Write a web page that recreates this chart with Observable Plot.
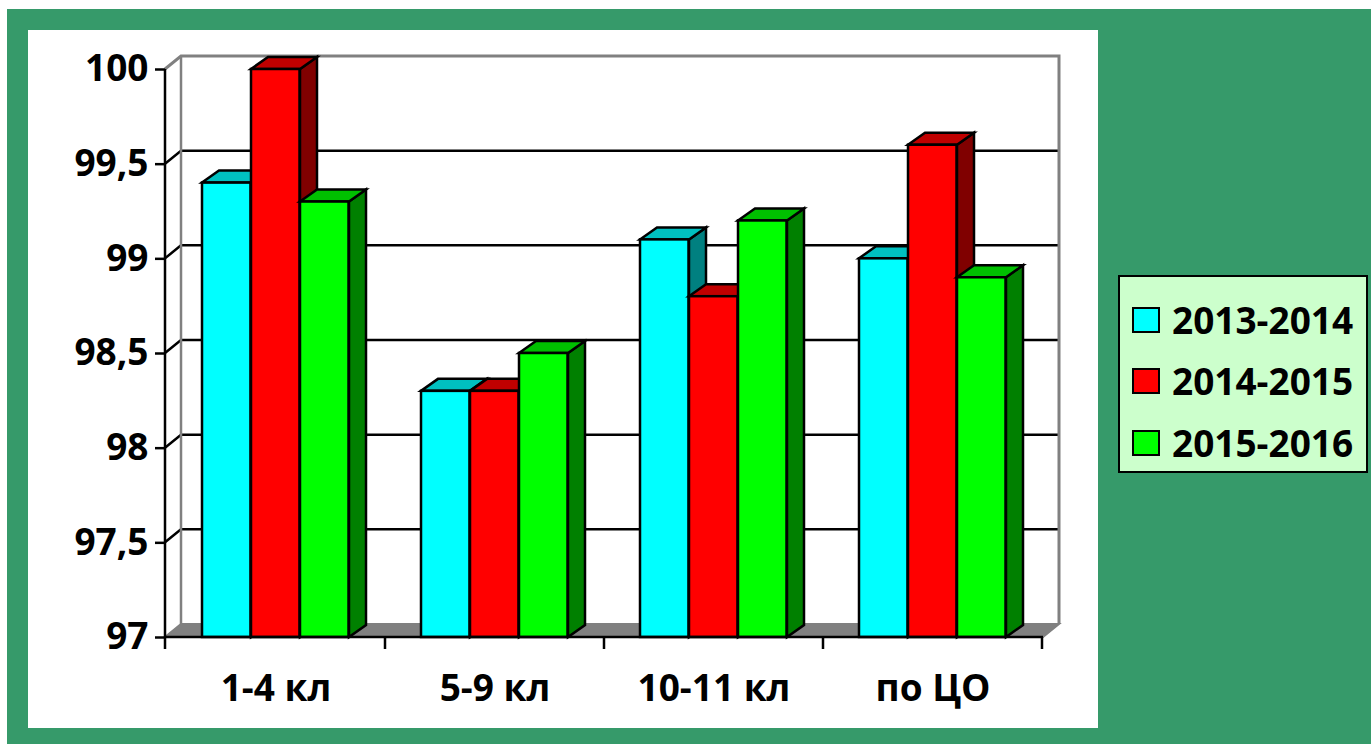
<!DOCTYPE html>
<html><head><meta charset="utf-8">
<script src="https://cdn.jsdelivr.net/npm/d3@7"></script>
<script src="https://cdn.jsdelivr.net/npm/@observablehq/plot@0.6"></script>
<style>
body{margin:0;background:#fff;}
#wrap{position:relative;width:1371px;height:744px;overflow:hidden;font-family:"Open Sans",sans-serif;}
#bg{position:absolute;left:7px;top:9px;right:0;bottom:0;background:#369A6A;}
#panel{position:absolute;left:28px;top:30px;width:1070px;height:698px;background:#fff;}
#panel svg{display:block;}
#legend{position:absolute;left:1118px;top:275px;width:246px;height:194px;background:#CCFFCC;border:2px solid #000;}
.item{position:absolute;left:12px;height:40px;display:flex;align-items:center;font-weight:700;font-size:37px;line-height:40px;color:#000;white-space:nowrap;}
.sw{width:24px;height:22px;border:2px solid #000;margin-right:12px;}
</style>
</head><body>
<div id="wrap"><div id="bg"></div><div id="panel"></div><div id="legend"></div></div>
<script>
const categories = ["1-4 кл", "5-9 кл", "10-11 кл", "по ЦО"];
const series = ["2013-2014", "2014-2015", "2015-2016"];
const values2013 = [99.4, 98.3, 99.1, 99.0];
const values2014 = [100, 98.3, 98.8, 99.6];
const values2015 = [99.3, 98.5, 99.2, 98.9];
const yTicks = [97, 97.5, 98, 98.5, 99, 99.5, 100];
const yGrid = [97.5, 98, 98.5, 99, 99.5];
const frontColors = ["#00FFFF", "#FF0000", "#00FF00"];
const topColors = ["#00C0C0", "#C00000", "#00C000"];
const sideColors = ["#008080", "#800000", "#008000"];

const seriesValues = [values2013, values2014, values2015];
const rows = categories.flatMap((c, j) => series.map((s, i) => ({category: c, series: s, value: seriesValues[i][j]})));

const W = 1070, H = 698, mL = 137, mR = 55, mT = 39, mB = 91;
const wallDX = 16, wallDY = 13, barDX = 17, barDY = 12;
const bw = (W - mL - mR) / categories.length;
const groupOffset = 36, barW = 49;

function walls(index, scales, values, dims) {
  const x0 = dims.marginLeft, x1 = dims.width - dims.marginRight;
  const y = scales.y, yb = y(97), yt = y(100);
  const g = d3.create("svg:g").attr("fill", "none");
  g.append("path").attr("d", `M${x0},${yb}L${x1},${yb}L${x1+wallDX},${yb-wallDY}L${x0+wallDX},${yb-wallDY}Z`)
    .attr("fill", "#808080").attr("stroke", "#808080").attr("stroke-width", 2);
  for (const v of yGrid) {
    const yy = y(v);
    g.append("path").attr("d", `M${x0},${yy}L${x0+wallDX},${yy-wallDY}L${x1+wallDX},${yy-wallDY}`)
      .attr("stroke", "#000").attr("stroke-width", 2.5);
  }
  g.append("path").attr("d", `M${x0},${yt}L${x0+wallDX},${yt-wallDY}L${x1+wallDX},${yt-wallDY}L${x1+wallDX},${yb-wallDY}`)
    .attr("stroke", "#808080").attr("stroke-width", 3);
  g.append("path").attr("d", `M${x0+wallDX},${yt-wallDY}L${x0+wallDX},${yb-wallDY}`)
    .attr("stroke", "#808080").attr("stroke-width", 2.5);
  return g.node();
}

function faces(i) {
  return (index, scales, values, dims) => {
    const g = d3.create("svg:g").attr("stroke", "#000").attr("stroke-width", 2.5).attr("stroke-linejoin", "miter");
    const yb = scales.y(97);
    categories.forEach((c, j) => {
      const xl = scales.x(c) + groupOffset + i * barW, xr = xl + barW, yt = scales.y(seriesValues[i][j]);
      g.append("path").attr("d", `M${xr},${yt}L${xr+barDX},${yt-barDY}L${xr+barDX},${yb-barDY}L${xr},${yb}Z`).attr("fill", sideColors[i]);
      g.append("path").attr("d", `M${xl},${yt}L${xl+barDX},${yt-barDY}L${xr+barDX},${yt-barDY}L${xr},${yt}Z`).attr("fill", topColors[i]);
    });
    return g.node();
  };
}

function frontAxes(index, scales, values, dims) {
  const x0 = dims.marginLeft, x1 = dims.width - dims.marginRight;
  const yb = scales.y(97), yt = scales.y(100);
  const g = d3.create("svg:g").attr("stroke", "#000").attr("stroke-width", 2.5).attr("fill", "none");
  g.append("path").attr("d", `M${x0},${yt}L${x0},${yb+12}`);
  g.append("path").attr("d", `M${x0},${yb}L${x1},${yb}`);
  categories.forEach((c, j) => {
    const xx = scales.x(c) + scales.x.bandwidth();
    g.append("path").attr("d", `M${xx},${yb}L${xx},${yb+12}`);
  });
  return g.node();
}

const marks = [walls];
series.forEach((s, i) => {
  marks.push(faces(i));
  marks.push(Plot.barY(rows.filter(d => d.series === s), {
    x: "category", y1: 97, y2: "value",
    fill: frontColors[i], stroke: "#000", strokeWidth: 2.5,
    insetLeft: groupOffset + i * barW, insetRight: bw - groupOffset - (i + 1) * barW
  }));
});
marks.push(Plot.axisY({ticks: yTicks, tickFormat: d => String(d).replace(".", ","), tickSize: 10, tickPadding: 7, fontSize: 37, fontWeight: "bold", strokeWidth: 2.5, label: null}));
marks.push(Plot.axisX({tickSize: 0, tickPadding: 37, fontSize: 37, fontWeight: "bold", label: null}));
marks.push(frontAxes);

const chart = Plot.plot({
  width: W, height: H,
  marginLeft: mL, marginRight: mR, marginTop: mT, marginBottom: mB,
  x: {type: "band", domain: categories, padding: 0, label: null},
  y: {domain: [97, 100], label: null},
  style: {fontFamily: "'Open Sans', sans-serif", color: "#000", background: "#fff", overflow: "visible"},
  marks
});
document.getElementById("panel").appendChild(chart);

const legend = document.getElementById("legend");
const centers = [43, 104, 166];
series.forEach((s, i) => {
  const it = document.createElement("div");
  it.className = "item";
  it.style.top = (centers[i] - 20) + "px";
  const sw = document.createElement("div");
  sw.className = "sw"; sw.style.background = frontColors[i];
  it.appendChild(sw);
  it.appendChild(document.createTextNode(s));
  legend.appendChild(it);
});
</script>
</body></html>
